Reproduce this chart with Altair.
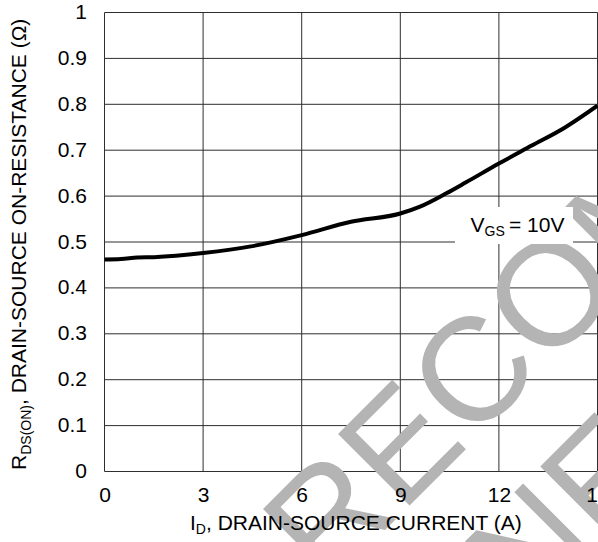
import altair as alt
import pandas as pd

# On-resistance vs drain current, VGS = 10 V
current_a = [0, 0.5, 1.0, 1.5, 3, 4.5, 6, 7.5, 9, 9.6, 10.4, 11, 12, 13, 14, 15]
rds_on = [0.462, 0.463, 0.466, 0.467, 0.476, 0.491, 0.515, 0.544, 0.562,
          0.577, 0.606, 0.630, 0.671, 0.710, 0.749, 0.797]

x_ticks = [0, 3, 6, 9, 12, 15]
y_ticks = [0, 0.1, 0.2, 0.3, 0.4, 0.5, 0.6, 0.7, 0.8, 0.9, 1.0]

watermark_lines = ["NOT RECOMMENDED", "FOR NEW DESIGN"]

FONT = "Liberation Sans"
W, H = 493, 459
PAD_L, PAD_T = 104.5, 12.5

x_scale = alt.Scale(domain=[0, 15], nice=False, zero=False)
y_scale = alt.Scale(domain=[0, 1], nice=False, zero=False)

axis_common = dict(grid=False, domain=False, ticks=False, labelFont=FONT,
                   labelFontSize=21, labelColor="black", labelFlush=False,
                   labelOverlap=False, title=None, zindex=1, format="~g")
x_axis = alt.Axis(values=x_ticks, labelPadding=13, **axis_common)
y_axis = alt.Axis(values=y_ticks, labelPadding=18, **axis_common)

GRID = "#2e2e2e"

hgrid = alt.Chart(pd.DataFrame({"R": y_ticks})).mark_rule(
    color=GRID, strokeWidth=1
).encode(
    y=alt.Y("R:Q", scale=y_scale, axis=y_axis),
    x=alt.value(0), x2=alt.value(W),
)

vgrid = alt.Chart(pd.DataFrame({"I": x_ticks})).mark_rule(
    color=GRID, strokeWidth=1
).encode(
    x=alt.X("I:Q", scale=x_scale, axis=x_axis),
    y=alt.value(0), y2=alt.value(H),
)


def text_at(text, x, y, size, color="black", align="left", angle=None):
    kw = dict(font=FONT, fontSize=size, color=color, align=align,
              baseline="alphabetic")
    if angle is not None:
        kw["angle"] = angle
    return alt.Chart(pd.DataFrame({"t": [text]})).mark_text(**kw).encode(
        x=alt.value(x), y=alt.value(y), text="t:N"
    )


# Diagonal watermark across the plot
wm_color = "#b4b4b4"
watermark = alt.layer(
    text_at(watermark_lines[0], 517.0, 281.0, 147, color=wm_color,
            align="center", angle=315),
    text_at(watermark_lines[1], 634.4, 398.3, 147, color=wm_color,
            align="center", angle=315),
)

# VGS annotation with white backing box
box = alt.Chart(pd.DataFrame({"k": [0]})).mark_rect(color="white").encode(
    x=alt.value(455 - PAD_L), x2=alt.value(573 - PAD_L),
    y=alt.value(207 - PAD_T), y2=alt.value(244 - PAD_T),
)
vgs = alt.layer(
    text_at("V", 470.5 - PAD_L, 231.5 - PAD_T, 21),
    text_at("GS", 484.5 - PAD_L, 236 - PAD_T, 14),
    text_at("= 10V", 509 - PAD_L, 231.5 - PAD_T, 21),
)

# Axis titles with subscripts
x_title = alt.layer(
    text_at("I", 190 - PAD_L, 529.5 - PAD_T, 21),
    text_at("D", 195.8 - PAD_L, 534 - PAD_T, 14),
    text_at(", DRAIN-SOURCE CURRENT (A)", 206 - PAD_L, 529.5 - PAD_T, 21),
)
y_title = alt.layer(
    text_at("R", 26 - PAD_L, 470 - PAD_T, 21, angle=270),
    text_at("DS(ON)", 30.5 - PAD_L, 454.8 - PAD_T, 14, angle=270),
    text_at(", DRAIN-SOURCE ON-RESISTANCE (\u03a9)", 26 - PAD_L, 405 - PAD_T,
            21, angle=270),
)

curve = alt.Chart(pd.DataFrame({"I": current_a, "R": rds_on})).mark_line(
    color="black", strokeWidth=4, interpolate="monotone"
).encode(
    x=alt.X("I:Q", scale=x_scale, axis=x_axis),
    y=alt.Y("R:Q", scale=y_scale, axis=y_axis),
)

chart = alt.layer(
    hgrid, vgrid, watermark, box, vgs, x_title, y_title, curve
).properties(
    width=W, height=H,
    autosize=alt.AutoSizeParams(type="none"),
    padding={"left": PAD_L, "top": PAD_T, "right": 0.5, "bottom": 70.5},
    background="white",
).configure_view(stroke=None)

chart.save("out.html", embed_options={"renderer": "svg", "actions": False})
